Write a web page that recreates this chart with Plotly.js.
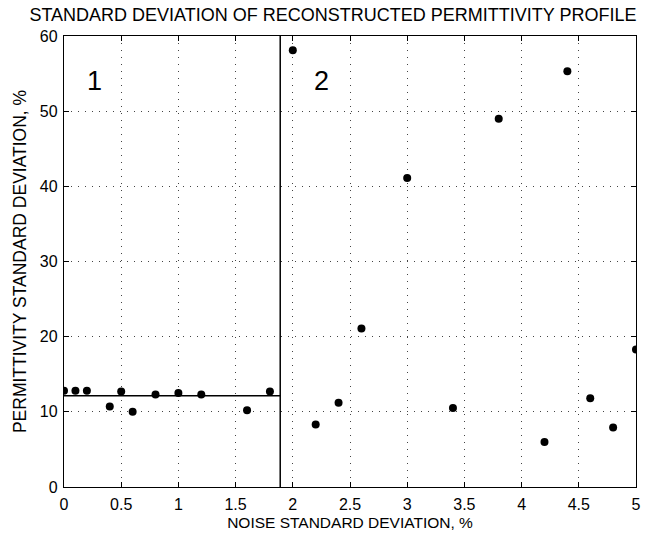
<!DOCTYPE html>
<html>
<head>
<meta charset="utf-8">
<script src="https://cdn.plot.ly/plotly-3.0.1.min.js"></script>
<style>html,body{margin:0;padding:0;background:#fff;}#chart{width:649px;height:537px;}</style>
</head>
<body>
<div id="chart"></div>
<script>
// Noise standard deviation (%) and permittivity standard deviation (%)
var noiseSD = [0, 0.1, 0.2, 0.4, 0.5, 0.6, 0.8, 1.0, 1.2, 1.6, 1.8,
               2.0, 2.2, 2.4, 2.6, 3.0, 3.4, 3.8, 4.2, 4.4, 4.6, 4.8, 5.0];
var permSD  = [12.8, 12.8, 12.8, 10.7, 12.7, 10.0, 12.3, 12.5, 12.3, 10.2, 12.7,
               58.1, 8.3, 11.2, 21.1, 41.1, 10.5, 49.0, 6.0, 55.3, 11.8, 7.9, 18.3];
// Zone boundary and mean level in zone 1
var boundaryX = [1.89, 1.89];
var boundaryY = [0, 60];
var meanX = [0, 1.89];
var meanY = [12.13, 12.13];
var zoneLabels = ["1", "2"];
var zoneLabelX = [0.27, 2.255];
var zoneLabelY = [54, 54];
var xTicks = [0, 0.5, 1, 1.5, 2, 2.5, 3, 3.5, 4, 4.5, 5];
var yTicks = [0, 10, 20, 30, 40, 50, 60];

var font = "Liberation Sans, Arial, Helvetica, sans-serif";
var gridDash = "1px,6px";

var traces = [
  {x: boundaryX, y: boundaryY, mode: "lines", line: {color: "#000", width: 1.5}, hoverinfo: "skip", showlegend: false},
  {x: meanX, y: meanY, mode: "lines", line: {color: "#000", width: 1.5}, hoverinfo: "skip", showlegend: false},
  {x: noiseSD, y: permSD, mode: "markers", marker: {symbol: "circle", size: 8, color: "#000"}, showlegend: false}
];

var annotations = zoneLabels.map(function(t, i){
  return {x: zoneLabelX[i], y: zoneLabelY[i], xref: "x", yref: "y", text: t, showarrow: false,
          font: {family: font, size: 27, color: "#000"}};
});

var axisCommon = {
  showline: true, linecolor: "#000", linewidth: 1.2, mirror: "ticks",
  ticks: "inside", ticklen: 5, tickcolor: "#000", tickwidth: 1,
  showgrid: true, gridcolor: "#444", gridwidth: 1, griddash: gridDash,
  zeroline: false, tickfont: {family: font, size: 16, color: "#000"}
};

var layout = {
  width: 649, height: 537,
  margin: {l: 64, r: 13, t: 36, b: 50},
  paper_bgcolor: "#fff", plot_bgcolor: "#fff",
  title: {text: "STANDARD DEVIATION OF RECONSTRUCTED PERMITTIVITY PROFILE",
          font: {family: font, size: 18, color: "#000"}, x: 0.513, xanchor: "center", y: 0.972, yanchor: "middle"},
  xaxis: Object.assign({}, axisCommon, {range: [0, 5], tickvals: xTicks, ticktext: xTicks.map(String), ticklabelstandoff: 3,
          title: {text: "NOISE STANDARD DEVIATION, %", font: {family: font, size: 15.5, color: "#000"}, standoff: 4}}),
  yaxis: Object.assign({}, axisCommon, {range: [0, 60], tickvals: yTicks, ticktext: yTicks.map(String), ticklabelstandoff: 2,
          title: {text: "PERMITTIVITY STANDARD DEVIATION, %", font: {family: font, size: 17.5, color: "#000"}, standoff: 8}}),
  annotations: annotations
};

Plotly.newPlot("chart", traces, layout, {staticPlot: true, displayModeBar: false});
</script>
</body>
</html>
